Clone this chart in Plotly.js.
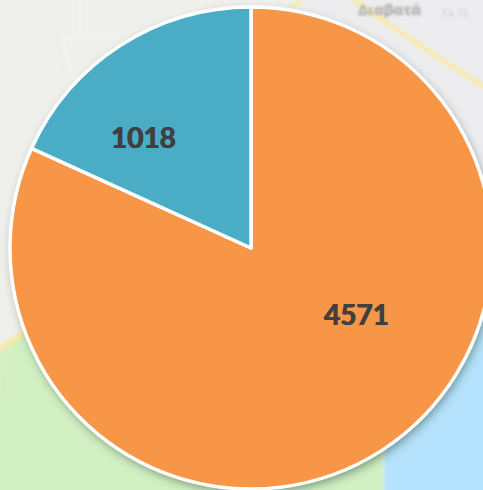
<!DOCTYPE html>
<html>
<head>
<meta charset="utf-8">
<script src="https://cdn.plot.ly/plotly-3.0.1.min.js"></script>
<style>
html,body{margin:0;padding:0;width:483px;height:490px;overflow:hidden;background:#efefec;}
#map{position:absolute;left:0;top:0;width:483px;height:490px;}
#chart{position:absolute;left:0;top:0;width:483px;height:490px;overflow:hidden;}
</style>
</head>
<body>
<svg id="map" width="483" height="490" viewBox="0 0 483 490" xmlns="http://www.w3.org/2000/svg">
  <defs>
    <filter id="b1" x="-20%" y="-20%" width="140%" height="140%"><feGaussianBlur stdDeviation="1.6"/></filter>
    <filter id="b2" x="-20%" y="-20%" width="140%" height="140%"><feGaussianBlur stdDeviation="5"/></filter>
  </defs>
  <rect width="483" height="490" fill="#efefec"/>
  <rect x="300" width="183" height="200" fill="#ededef"/>
  <g filter="url(#b1)">
    <path d="M0 346 L30 326 L200 326 L383 400 L383 492 L-4 492 Z" fill="#d2f0c2"/>
    <rect x="384" y="300" width="102" height="194" fill="#b5e2fc"/>
    <path d="M0 349 L24 333" stroke="#f7e8a6" stroke-width="6" fill="none"/>
    <path d="M352 -2 L382 20 L433 54 L486 88" stroke="#f6ebae" stroke-width="5" fill="none"/>
    <path d="M303 -2 L288 10" stroke="#f6ebae" stroke-width="4" fill="none"/>
    <path d="M48 0 L54 30 L68 78" stroke="#e9eff0" stroke-width="3" fill="none"/>
    <path d="M65 38 L120 34 M65 38 C62 55 68 70 78 82 M80 0 L80 35" stroke="#f3f3f1" stroke-width="3" fill="none"/>
    <text x="358" y="15" font-family="Open Sans" font-size="15" font-weight="700" fill="#a2a2a2">Διαβατά</text>
    <text x="442" y="17" font-family="Open Sans" font-size="10" fill="#cbcdcf">ΕΑ 16</text>
  </g>
  <circle cx="253" cy="252" r="241" fill="#2f4a40" fill-opacity="0.55" filter="url(#b2)"/>
</svg>
<div id="chart"></div>
<script>
var sliceNames = ["A", "B"];
var sliceValues = [4571, 1018];
var sliceColors = ["#f79646", "#4bacc6"];
var labelX = [356, 143];
var labelY = [314, 137];

var W = 502, H = 496;
var data = [{
  type: "pie",
  labels: sliceNames,
  values: sliceValues,
  sort: false,
  direction: "clockwise",
  rotation: 0,
  textinfo: "none",
  hoverinfo: "value",
  marker: {colors: sliceColors, line: {color: "#ffffff", width: 3.5}}
}];
var annotations = sliceValues.map(function (v, i) {
  return {
    xref: "paper", yref: "paper",
    x: (labelX[i] - 10) / 482,
    y: 1 - (labelY[i] - 7) / 482,
    xanchor: "center", yanchor: "middle",
    showarrow: false,
    text: "<b>" + v + "</b>",
    font: {family: "Lato, 'Open Sans', sans-serif", size: 28, weight: 900, color: "#404040",
           shadow: "0.4px 0 0 #404040, -0.4px 0 0 #404040"}
  };
});
var layout = {
  width: W, height: H,
  margin: {l: 10, r: 10, t: 7, b: 7, pad: 0},
  showlegend: false,
  paper_bgcolor: "rgba(0,0,0,0)",
  plot_bgcolor: "rgba(0,0,0,0)",
  annotations: annotations
};
Plotly.newPlot("chart", data, layout, {displayModeBar: false, staticPlot: true});
</script>
</body>
</html>
